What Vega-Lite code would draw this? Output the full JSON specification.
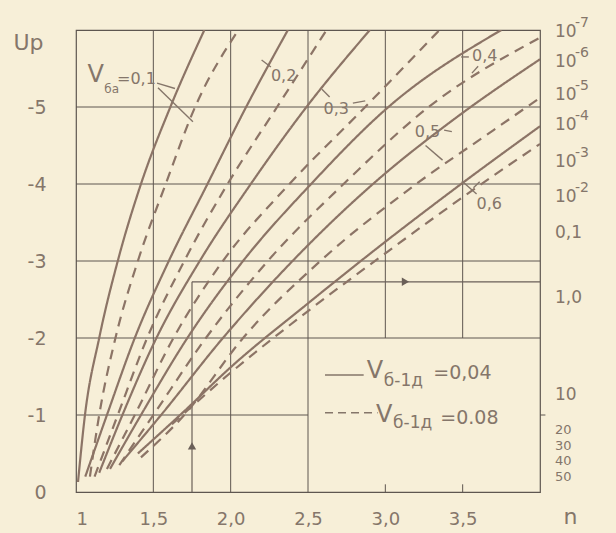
{
  "$schema": "https://vega.github.io/schema/vega-lite/v6.json",
  "width": 464,
  "height": 462,
  "autosize": "none",
  "padding": {"left": 76, "top": 30, "right": 76, "bottom": 41},
  "background": "#f7efd8",
  "config": {
    "view": {"stroke": "#5e5650", "strokeWidth": 1.2},
    "font": "DejaVu Sans",
    "axis": {"labelColor": "#85766a", "titleColor": "#85766a", "labelFont": "DejaVu Sans", "titleFont": "DejaVu Sans", "titleFontWeight": "normal"}
  },
  "datasets": {
    "curves": [
      {"v": "0,1", "k": "0,04", "n": 1.013, "up": -0.13},
      {"v": "0,1", "k": "0,04", "n": 1.058, "up": -1},
      {"v": "0,1", "k": "0,04", "n": 1.15, "up": -2},
      {"v": "0,1", "k": "0,04", "n": 1.27, "up": -3},
      {"v": "0,1", "k": "0,04", "n": 1.42, "up": -4},
      {"v": "0,1", "k": "0,04", "n": 1.61, "up": -5},
      {"v": "0,1", "k": "0,04", "n": 1.83, "up": -6},
      {"v": "0,1", "k": "0,08", "n": 1.09, "up": -0.2},
      {"v": "0,1", "k": "0,08", "n": 1.15, "up": -1},
      {"v": "0,1", "k": "0,08", "n": 1.255, "up": -2},
      {"v": "0,1", "k": "0,08", "n": 1.4, "up": -3},
      {"v": "0,1", "k": "0,08", "n": 1.58, "up": -4},
      {"v": "0,1", "k": "0,08", "n": 1.77, "up": -5},
      {"v": "0,1", "k": "0,08", "n": 2.05, "up": -6},
      {"v": "0,2", "k": "0,04", "n": 1.06, "up": -0.2},
      {"v": "0,2", "k": "0,04", "n": 1.2, "up": -1},
      {"v": "0,2", "k": "0,04", "n": 1.38, "up": -2},
      {"v": "0,2", "k": "0,04", "n": 1.6, "up": -3},
      {"v": "0,2", "k": "0,04", "n": 1.85, "up": -4},
      {"v": "0,2", "k": "0,04", "n": 2.1, "up": -5},
      {"v": "0,2", "k": "0,04", "n": 2.37, "up": -6},
      {"v": "0,2", "k": "0,08", "n": 1.12, "up": -0.2},
      {"v": "0,2", "k": "0,08", "n": 1.27, "up": -1},
      {"v": "0,2", "k": "0,08", "n": 1.46, "up": -2},
      {"v": "0,2", "k": "0,08", "n": 1.7, "up": -3},
      {"v": "0,2", "k": "0,08", "n": 1.98, "up": -4},
      {"v": "0,2", "k": "0,08", "n": 2.3, "up": -5},
      {"v": "0,2", "k": "0,08", "n": 2.62, "up": -6},
      {"v": "0,3", "k": "0,04", "n": 1.15, "up": -0.25},
      {"v": "0,3", "k": "0,04", "n": 1.3, "up": -1},
      {"v": "0,3", "k": "0,04", "n": 1.52, "up": -2},
      {"v": "0,3", "k": "0,04", "n": 1.8, "up": -3},
      {"v": "0,3", "k": "0,04", "n": 2.13, "up": -4},
      {"v": "0,3", "k": "0,04", "n": 2.49, "up": -5},
      {"v": "0,3", "k": "0,04", "n": 2.9, "up": -6},
      {"v": "0,3", "k": "0,08", "n": 1.2, "up": -0.3},
      {"v": "0,3", "k": "0,08", "n": 1.38, "up": -1},
      {"v": "0,3", "k": "0,08", "n": 1.63, "up": -2},
      {"v": "0,3", "k": "0,08", "n": 1.95, "up": -3},
      {"v": "0,3", "k": "0,08", "n": 2.38, "up": -4},
      {"v": "0,3", "k": "0,08", "n": 2.87, "up": -5},
      {"v": "0,3", "k": "0,08", "n": 3.35, "up": -6},
      {"v": "0,4", "k": "0,04", "n": 1.22, "up": -0.3},
      {"v": "0,4", "k": "0,04", "n": 1.42, "up": -1},
      {"v": "0,4", "k": "0,04", "n": 1.72, "up": -2},
      {"v": "0,4", "k": "0,04", "n": 2.08, "up": -3},
      {"v": "0,4", "k": "0,04", "n": 2.52, "up": -4},
      {"v": "0,4", "k": "0,04", "n": 3.02, "up": -5},
      {"v": "0,4", "k": "0,04", "n": 3.75, "up": -6},
      {"v": "0,4", "k": "0,08", "n": 1.28, "up": -0.35},
      {"v": "0,4", "k": "0,08", "n": 1.5, "up": -1},
      {"v": "0,4", "k": "0,08", "n": 1.84, "up": -2},
      {"v": "0,4", "k": "0,08", "n": 2.24, "up": -3},
      {"v": "0,4", "k": "0,08", "n": 2.73, "up": -4},
      {"v": "0,4", "k": "0,08", "n": 3.28, "up": -5},
      {"v": "0,4", "k": "0,08", "n": 4.0, "up": -5.9},
      {"v": "0,5", "k": "0,04", "n": 1.3, "up": -0.4},
      {"v": "0,5", "k": "0,04", "n": 1.55, "up": -1},
      {"v": "0,5", "k": "0,04", "n": 1.95, "up": -2},
      {"v": "0,5", "k": "0,04", "n": 2.4, "up": -3},
      {"v": "0,5", "k": "0,04", "n": 2.92, "up": -4},
      {"v": "0,5", "k": "0,04", "n": 3.45, "up": -4.85},
      {"v": "0,5", "k": "0,04", "n": 4.0, "up": -5.62},
      {"v": "0,5", "k": "0,08", "n": 1.42, "up": -0.45},
      {"v": "0,5", "k": "0,08", "n": 1.7, "up": -1},
      {"v": "0,5", "k": "0,08", "n": 2.08, "up": -2},
      {"v": "0,5", "k": "0,08", "n": 2.58, "up": -3},
      {"v": "0,5", "k": "0,08", "n": 3.2, "up": -4},
      {"v": "0,5", "k": "0,08", "n": 3.7, "up": -4.7},
      {"v": "0,5", "k": "0,08", "n": 4.0, "up": -5.12},
      {"v": "0,6", "k": "0,04", "n": 1.4, "up": -0.5},
      {"v": "0,6", "k": "0,04", "n": 1.7, "up": -1.05},
      {"v": "0,6", "k": "0,04", "n": 2.0, "up": -1.62},
      {"v": "0,6", "k": "0,04", "n": 2.5, "up": -2.45},
      {"v": "0,6", "k": "0,04", "n": 3.0, "up": -3.25},
      {"v": "0,6", "k": "0,04", "n": 3.49, "up": -4.0},
      {"v": "0,6", "k": "0,04", "n": 4.0, "up": -4.75},
      {"v": "0,6", "k": "0,08", "n": 1.62, "up": -0.88},
      {"v": "0,6", "k": "0,08", "n": 2.0, "up": -1.55},
      {"v": "0,6", "k": "0,08", "n": 2.5, "up": -2.35},
      {"v": "0,6", "k": "0,08", "n": 3.0, "up": -3.1},
      {"v": "0,6", "k": "0,08", "n": 3.6, "up": -3.97},
      {"v": "0,6", "k": "0,08", "n": 4.0, "up": -4.52}
    ],
    "grid": [
      {"n": 1.5, "n2": 1.5, "up": 0, "up2": -6},
      {"n": 2.0, "n2": 2.0, "up": 0, "up2": -6},
      {"n": 2.5, "n2": 2.5, "up": 0, "up2": -6},
      {"n": 3.0, "n2": 3.0, "up": -2, "up2": -6},
      {"n": 3.5, "n2": 3.5, "up": -2, "up2": -6},
      {"n": 3.0, "n2": 3.0, "up": 0, "up2": -0.1},
      {"n": 3.5, "n2": 3.5, "up": 0, "up2": -0.1},
      {"n": 1.0, "n2": 2.5, "up": -1, "up2": -1},
      {"n": 4.0, "n2": 4.035, "up": -1, "up2": -1},
      {"n": 1.0, "n2": 4.0, "up": -2, "up2": -2},
      {"n": 1.0, "n2": 4.0, "up": -3, "up2": -3},
      {"n": 1.0, "n2": 4.0, "up": -4, "up2": -4},
      {"n": 1.0, "n2": 4.0, "up": -5, "up2": -5}
    ],
    "guide": [
      {"n": 1.75, "n2": 1.75, "up": 0, "up2": -2.73},
      {"n": 1.75, "n2": 4.0, "up": -2.73, "up2": -2.73}
    ],
    "arrowsUp": [{"n": 1.75, "up": -0.6}],
    "arrowsRight": [{"n": 3.13, "up": -2.73}],
    "leaders": [
      {"n": 1.524, "n2": 1.64, "up": -5.31, "up2": -5.24},
      {"n": 1.53, "n2": 1.756, "up": -5.25, "up2": -4.81},
      {"n": 2.2, "n2": 2.26, "up": -5.61, "up2": -5.52},
      {"n": 2.59, "n2": 2.64, "up": -5.23, "up2": -5.13},
      {"n": 2.79, "n2": 2.87, "up": -5.05, "up2": -5.08},
      {"n": 3.49, "n2": 3.54, "up": -5.65, "up2": -5.65},
      {"n": 3.6, "n2": 3.56, "up": -5.53, "up2": -5.44},
      {"n": 3.26, "n2": 3.37, "up": -4.5, "up2": -4.31},
      {"n": 3.38, "n2": 3.43, "up": -4.7, "up2": -4.68},
      {"n": 3.59, "n2": 3.495, "up": -3.87, "up2": -4.04},
      {"n": 3.57, "n2": 3.61, "up": -3.95, "up2": -4.03},
      {"n": 2.61, "n2": 2.86, "up": -1.52, "up2": -1.52}
    ],
    "legendDash": [
      {"n": 2.61, "n2": 2.95, "up": -1.03, "up2": -1.03}
    ],
    "bigText": [
      {"t": "V", "n": 1.075, "up": -5.42},
      {"t": "V", "n": 2.88, "up": -1.57},
      {"t": "V", "n": 2.94, "up": -1.0}
    ],
    "subSmall": [
      {"t": "ба", "n": 1.183, "up": -5.24}
    ],
    "subLegend": [
      {"t": "б-1д", "n": 2.99, "up": -1.44},
      {"t": "б-1д", "n": 3.05, "up": -0.9}
    ],
    "curveLabels": [
      {"t": "=0,1", "n": 1.265, "up": -5.37},
      {"t": "0,2", "n": 2.26, "up": -5.4},
      {"t": "0,3", "n": 2.6, "up": -4.97},
      {"t": "0,4", "n": 3.56, "up": -5.66},
      {"t": "0,5", "n": 3.19, "up": -4.68},
      {"t": "0,6", "n": 3.59, "up": -3.74}
    ],
    "legendValues": [
      {"t": "=0,04", "n": 3.31, "up": -1.55},
      {"t": "=0.08", "n": 3.355, "up": -0.96}
    ],
    "probability": [
      {"base": "10", "sup": "-7", "up": -5.97},
      {"base": "10", "sup": "-6", "up": -5.58},
      {"base": "10", "sup": "-5", "up": -5.16},
      {"base": "10", "sup": "-4", "up": -4.77},
      {"base": "10", "sup": "-3", "up": -4.29},
      {"base": "10", "sup": "-2", "up": -3.83},
      {"base": "0,1", "sup": "", "up": -3.36},
      {"base": "1,0", "sup": "", "up": -2.52},
      {"base": "10", "sup": "", "up": -1.26},
      {"base": "20", "sup": "", "up": -0.8},
      {"base": "30", "sup": "", "up": -0.6},
      {"base": "40", "sup": "", "up": -0.4},
      {"base": "50", "sup": "", "up": -0.2}
    ]
  },
  "layer": [
    {
      "data": {"name": "grid"},
      "mark": {"type": "rule", "color": "#5e5650", "strokeWidth": 1, "clip": false},
      "encoding": {
        "x": {"field": "n", "type": "quantitative", "scale": {"domain": [1, 4]},
          "axis": {"values": [1, 1.5, 2, 2.5, 3, 3.5], "labelExpr": "datum.value == 1 ? '1' : replace(format(datum.value, '.1f'), '.', ',')",
            "ticks": false, "domain": false, "grid": false, "labelFontSize": 18, "labelPadding": 18,
            "title": "n", "titleFontSize": 22, "titleX": 494, "titleY": 24, "titleAlign": "center", "titleBaseline": "middle"}},
        "x2": {"field": "n2"},
        "y": {"field": "up", "type": "quantitative", "scale": {"domain": [0, -6]},
          "axis": {"values": [0, -1, -2, -3, -4, -5], "labelExpr": "datum.value == 0 ? '0' : '-' + (-datum.value)",
            "ticks": false, "domain": false, "grid": false, "labelFontSize": 19, "labelPadding": 30,
            "title": "Up", "titleAngle": 0, "titleFontSize": 22, "titleX": -48, "titleY": 12, "titleAlign": "center", "titleBaseline": "middle"}},
        "y2": {"field": "up2"}
      }
    },
    {
      "data": {"name": "guide"},
      "mark": {"type": "rule", "color": "#6a5f58", "strokeWidth": 1.2},
      "encoding": {
        "x": {"field": "n", "type": "quantitative"},
        "x2": {"field": "n2"},
        "y": {"field": "up", "type": "quantitative"},
        "y2": {"field": "up2"}
      }
    },
    {
      "data": {"name": "arrowsUp"},
      "mark": {"type": "point", "shape": "triangle-up", "filled": true, "size": 70, "color": "#6a5f58", "opacity": 1},
      "encoding": {
        "x": {"field": "n", "type": "quantitative"},
        "y": {"field": "up", "type": "quantitative"}
      }
    },
    {
      "data": {"name": "arrowsRight"},
      "mark": {"type": "point", "shape": "triangle-right", "filled": true, "size": 70, "color": "#6a5f58", "opacity": 1},
      "encoding": {
        "x": {"field": "n", "type": "quantitative"},
        "y": {"field": "up", "type": "quantitative"}
      }
    },
    {
      "data": {"name": "curves"},
      "mark": {"type": "line", "interpolate": "monotone", "color": "#8c7466", "strokeWidth": 2.2, "clip": true},
      "encoding": {
        "x": {"field": "n", "type": "quantitative"},
        "y": {"field": "up", "type": "quantitative"},
        "detail": {"field": "v"},
        "strokeDash": {"field": "k", "type": "nominal", "scale": {"domain": ["0,04", "0,08"], "range": [[1, 0], [10, 7]]}, "legend": null}
      }
    },
    {
      "data": {"name": "leaders"},
      "mark": {"type": "rule", "color": "#85766a", "strokeWidth": 1.4},
      "encoding": {
        "x": {"field": "n", "type": "quantitative"},
        "x2": {"field": "n2"},
        "y": {"field": "up", "type": "quantitative"},
        "y2": {"field": "up2"}
      }
    },
    {
      "data": {"name": "legendDash"},
      "mark": {"type": "rule", "color": "#85766a", "strokeWidth": 1.4, "strokeDash": [8, 5]},
      "encoding": {
        "x": {"field": "n", "type": "quantitative"},
        "x2": {"field": "n2"},
        "y": {"field": "up", "type": "quantitative"},
        "y2": {"field": "up2"}
      }
    },
    {
      "data": {"name": "bigText"},
      "mark": {"type": "text", "fontSize": 24, "align": "left", "baseline": "middle", "color": "#85766a", "font": "DejaVu Sans"},
      "encoding": {
        "x": {"field": "n", "type": "quantitative"},
        "y": {"field": "up", "type": "quantitative"},
        "text": {"field": "t"}
      }
    },
    {
      "data": {"name": "subSmall"},
      "mark": {"type": "text", "fontSize": 12, "align": "left", "baseline": "middle", "color": "#85766a", "font": "DejaVu Sans"},
      "encoding": {
        "x": {"field": "n", "type": "quantitative"},
        "y": {"field": "up", "type": "quantitative"},
        "text": {"field": "t"}
      }
    },
    {
      "data": {"name": "subLegend"},
      "mark": {"type": "text", "fontSize": 17, "align": "left", "baseline": "middle", "color": "#85766a", "font": "DejaVu Sans"},
      "encoding": {
        "x": {"field": "n", "type": "quantitative"},
        "y": {"field": "up", "type": "quantitative"},
        "text": {"field": "t"}
      }
    },
    {
      "data": {"name": "curveLabels"},
      "mark": {"type": "text", "fontSize": 16, "align": "left", "baseline": "middle", "color": "#85766a", "font": "DejaVu Sans"},
      "encoding": {
        "x": {"field": "n", "type": "quantitative"},
        "y": {"field": "up", "type": "quantitative"},
        "text": {"field": "t"}
      }
    },
    {
      "data": {"name": "legendValues"},
      "mark": {"type": "text", "fontSize": 19, "align": "left", "baseline": "middle", "color": "#85766a", "font": "DejaVu Sans"},
      "encoding": {
        "x": {"field": "n", "type": "quantitative"},
        "y": {"field": "up", "type": "quantitative"},
        "text": {"field": "t"}
      }
    },
    {
      "data": {"name": "probability"},
      "mark": {"type": "text", "align": "left", "baseline": "middle", "dx": 15, "color": "#85766a", "font": "DejaVu Sans", "clip": false},
      "encoding": {
        "x": {"datum": 4, "type": "quantitative"},
        "y": {"field": "up", "type": "quantitative"},
        "text": {"field": "base"},
        "size": {"condition": {"test": "datum.up > -1", "value": 13}, "value": 17}
      }
    },
    {
      "data": {"name": "probability"},
      "mark": {"type": "text", "fontSize": 14, "align": "left", "baseline": "middle", "dx": 35, "dy": -9, "color": "#85766a", "font": "DejaVu Sans", "clip": false},
      "encoding": {
        "x": {"datum": 4, "type": "quantitative"},
        "y": {"field": "up", "type": "quantitative"},
        "text": {"field": "sup"}
      }
    }
  ]
}
